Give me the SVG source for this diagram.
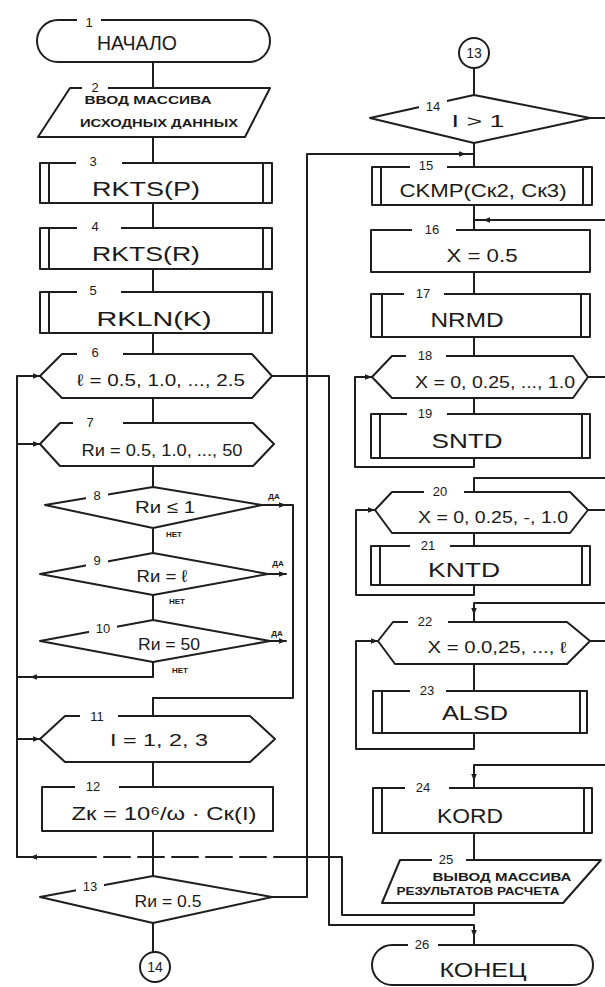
<svg xmlns="http://www.w3.org/2000/svg" width="605" height="987" viewBox="0 0 605 987">
<defs>
<marker id="arr" viewBox="0 0 10 10" refX="10" refY="5" markerWidth="7" markerHeight="7" orient="auto" markerUnits="userSpaceOnUse">
<path d="M0,1 L10,5 L0,9 z" fill="#1e1e1e"/>
</marker>
<style>
.s{fill:none;stroke:#1e1e1e;stroke-width:2;stroke-linejoin:round;stroke-linecap:round}
.b{fill:#fff;stroke:#1e1e1e;stroke-width:2;stroke-linejoin:round}
.g{fill:#fff;stroke:none}
.t{font-family:"Liberation Sans","DejaVu Sans",sans-serif;fill:#1a1a1a;text-anchor:middle}
.m{font-size:21px}
.f{font-size:17px}
.n{font-size:13px}
.c{font-size:11px;font-weight:bold}
.y{font-size:8px;font-weight:bold}
.d{stroke-dasharray:26 8}
</style>
</defs>
<rect width="605" height="987" fill="#fff"/>

<g id="connectors">
<!-- left column main spine -->
<line class="s" x1="153" y1="62" x2="153" y2="88"/>
<line class="s" x1="153" y1="137" x2="153" y2="163"/>
<line class="s" x1="153" y1="203" x2="153" y2="228"/>
<line class="s" x1="153" y1="269" x2="153" y2="292"/>
<line class="s" x1="153" y1="333" x2="153" y2="354"/>
<line class="s" x1="153" y1="398" x2="153" y2="423"/>
<line class="s" x1="153" y1="466" x2="153" y2="487"/>
<line class="s" x1="153" y1="528" x2="153" y2="553"/>
<line class="s" x1="153" y1="595" x2="153" y2="620"/>
<line class="s" x1="153" y1="698" x2="153" y2="716"/>
<line class="s" x1="153" y1="762" x2="153" y2="787"/>
<line class="s" x1="153" y1="831" x2="153" y2="876"/>
<line class="s" x1="153" y1="923" x2="153" y2="952"/>
<!-- да exits -->
<polyline class="s" points="262,505 286,505" marker-end="url(#arr)"/>
<polyline class="s" points="268,574 286,574" marker-end="url(#arr)"/>
<polyline class="s" points="270,641 286,641" marker-end="url(#arr)"/>
<polyline class="s" points="286,505 293,505 293,698 153,698"/>
<!-- нет return of 10 -->
<polyline class="s" points="153,662 153,677 30,677" marker-end="url(#arr)"/>
<line class="s" x1="30" y1="677" x2="17" y2="677"/>
<!-- left loop line -->
<polyline class="s" points="17,857 17,376 40,376" marker-end="url(#arr)"/>
<polyline class="s" points="17,444 40,444" marker-end="url(#arr)"/>
<polyline class="s" points="17,739 40,739" marker-end="url(#arr)"/>
<!-- return from 25 (dashed) -->
<polyline class="s" points="474,903 474,915 342,915 342,857 300,857"/>
<line class="s d" x1="300" y1="857" x2="92" y2="857"/>
<polyline class="s" points="92,857 30,857" marker-end="url(#arr)"/>
<line class="s" x1="30" y1="857" x2="17" y2="857"/>
<!-- line A: from 13 to 15 -->
<polyline class="s" points="272,897 307,897 307,154 466,154" marker-end="url(#arr)"/>
<line class="s" x1="466" y1="154" x2="474" y2="154"/>
<!-- line B: from 6 to 26 -->
<polyline class="s" points="272,376 329,376 329,925 474,925 474,937" marker-end="url(#arr)"/>
<line class="s" x1="474" y1="937" x2="474" y2="945"/>
<!-- right column spine -->
<line class="s" x1="474" y1="68" x2="474" y2="95"/>
<line class="s" x1="474" y1="143" x2="474" y2="167"/>
<line class="s" x1="474" y1="205" x2="474" y2="230"/>
<polyline class="s" points="605,220 483,220" marker-end="url(#arr)"/>
<line class="s" x1="483" y1="220" x2="474" y2="220"/>
<line class="s" x1="474" y1="272" x2="474" y2="294"/>
<line class="s" x1="474" y1="337" x2="474" y2="356"/>
<line class="s" x1="474" y1="398" x2="474" y2="414"/>
<polyline class="s" points="474,458 474,467 355,467 355,377 372,377" marker-end="url(#arr)"/>
<polyline class="s" points="605,478 474,478 474,492"/>
<line class="s" x1="474" y1="533" x2="474" y2="546"/>
<polyline class="s" points="474,585 474,595 356,595 356,510 375,510" marker-end="url(#arr)"/>
<polyline class="s" points="605,603 474,603 474,615" marker-end="url(#arr)"/>
<line class="s" x1="474" y1="615" x2="474" y2="622"/>
<line class="s" x1="474" y1="664" x2="474" y2="691"/>
<polyline class="s" points="474,733 474,749 356,749 356,641 378,641" marker-end="url(#arr)"/>
<polyline class="s" points="605,765 474,765 474,781" marker-end="url(#arr)"/>
<line class="s" x1="474" y1="781" x2="474" y2="788"/>
<line class="s" x1="474" y1="833" x2="474" y2="860"/>
<!-- off-page exits on right -->
<line class="s" x1="590" y1="118" x2="605" y2="118"/>
<line class="s" x1="588" y1="377" x2="605" y2="377"/>
<line class="s" x1="588" y1="510" x2="605" y2="510"/>
<line class="s" x1="590" y1="641" x2="605" y2="641"/>
<!-- да / нет -->
<text class="t y" x="274" y="499">ДА</text>
<text class="t y" x="278" y="566">ДА</text>
<text class="t y" x="277" y="636">ДА</text>
<text class="t y" x="174" y="537">НЕТ</text>
<text class="t y" x="177" y="604">НЕТ</text>
<text class="t y" x="180" y="673">НЕТ</text>
</g>

<g id="node1">
<rect class="b" x="37" y="20" width="233" height="42" rx="21"/>
<rect class="g" x="77" y="14" width="24" height="14"/>
<text class="t n" x="89" y="27">1</text>
<text class="t" x="137" y="50" font-size="20" textLength="80" lengthAdjust="spacingAndGlyphs">НАЧАЛО</text>
</g>
<g id="node2">
<polygon class="b" points="70,88 270,88 245,137 38,137"/>
<rect class="g" x="82" y="81" width="26" height="14"/>
<text class="t n" x="95" y="92">2</text>
<text class="t c" x="148" y="104" textLength="127" lengthAdjust="spacingAndGlyphs">ВВОД МАССИВА</text>
<text class="t c" x="159" y="127" textLength="158" lengthAdjust="spacingAndGlyphs">ИСХОДНЫХ ДАННЫХ</text>
</g>
<g id="node3">
<rect class="b" x="40" y="163" width="232" height="40"/>
<line class="s" x1="49" y1="163" x2="49" y2="203"/><line class="s" x1="263" y1="163" x2="263" y2="203"/>
<rect class="g" x="76" y="156" width="46" height="14"/>
<text class="t n" x="93" y="166">3</text>
<text class="t m" x="146" y="196" textLength="108" lengthAdjust="spacingAndGlyphs">RKTS(P)</text>
</g>
<g id="node4">
<rect class="b" x="40" y="228" width="232" height="41"/>
<line class="s" x1="49" y1="228" x2="49" y2="269"/><line class="s" x1="263" y1="228" x2="263" y2="269"/>
<rect class="g" x="77" y="221" width="44" height="14"/>
<text class="t n" x="95" y="231">4</text>
<text class="t m" x="146" y="261" textLength="108" lengthAdjust="spacingAndGlyphs">RKTS(R)</text>
</g>
<g id="node5">
<rect class="b" x="40" y="292" width="232" height="41"/>
<line class="s" x1="49" y1="292" x2="49" y2="333"/><line class="s" x1="263" y1="292" x2="263" y2="333"/>
<rect class="g" x="77" y="285" width="44" height="14"/>
<text class="t n" x="93" y="295">5</text>
<text class="t m" x="154" y="326" textLength="115" lengthAdjust="spacingAndGlyphs">RKLN(K)</text>
</g>
<g id="node6">
<polygon class="b" points="40,376 62,354 252,354 272,376 252,398 62,398"/>
<rect class="g" x="77" y="347" width="46" height="14"/>
<text class="t n" x="95" y="357">6</text>
<text class="t f" x="161" y="386" textLength="168" lengthAdjust="spacingAndGlyphs">ℓ = 0.5, 1.0, ..., 2.5</text>
</g>
<g id="node7">
<polygon class="b" points="40,444 60,423 253,423 274,444 253,466 60,466"/>
<rect class="g" x="73" y="416" width="50" height="14"/>
<text class="t n" x="90" y="427">7</text>
<text class="t f" x="162" y="456" textLength="161" lengthAdjust="spacingAndGlyphs">Rи = 0.5, 1.0, ..., 50</text>
</g>
<g id="node8">
<polygon class="b" points="153,487 262,505 153,528 45,505"/>
<rect class="g" x="86" y="489" width="22" height="14"/>
<text class="t n" x="97" y="500">8</text>
<text class="t f" x="165" y="513" textLength="60" lengthAdjust="spacingAndGlyphs">Rи ≤ 1</text>
</g>
<g id="node9">
<polygon class="b" points="153,553 268,574 153,595 40,574"/>
<rect class="g" x="86" y="554" width="22" height="14"/>
<text class="t n" x="97" y="565">9</text>
<text class="t f" x="162" y="582" textLength="51" lengthAdjust="spacingAndGlyphs">Rи = ℓ</text>
</g>
<g id="node10">
<polygon class="b" points="153,620 270,641 153,662 40,641"/>
<rect class="g" x="89" y="622" width="28" height="14"/>
<text class="t n" x="103" y="633">10</text>
<text class="t f" x="169" y="650" textLength="62" lengthAdjust="spacingAndGlyphs">Rи = 50</text>
</g>
<g id="node11">
<polygon class="b" points="40,739 65,716 250,716 275,739 250,762 65,762"/>
<rect class="g" x="80" y="709" width="38" height="14"/>
<text class="t n" x="97" y="721">11</text>
<text class="t f" x="159" y="746" textLength="98" lengthAdjust="spacingAndGlyphs">I = 1, 2, 3</text>
</g>
<g id="node12">
<rect class="b" x="42" y="787" width="231" height="44"/>
<rect class="g" x="75" y="780" width="44" height="14"/>
<text class="t n" x="93" y="791">12</text>
<text class="t" x="164" y="820" font-size="19" textLength="185" lengthAdjust="spacingAndGlyphs">Zк = 10⁶/ω · Cк(I)</text>
</g>
<g id="node13">
<polygon class="b" points="153,876 272,897 153,923 40,897"/>
<rect class="g" x="76" y="880" width="28" height="14"/>
<text class="t n" x="90" y="891">13</text>
<text class="t f" x="168" y="907" textLength="67" lengthAdjust="spacingAndGlyphs">Rи = 0.5</text>
</g>
<g id="conn14">
<circle class="b" cx="155" cy="967" r="15"/>
<text class="t" x="155" y="972" font-size="14">14</text>
</g>

<g id="conn13">
<circle class="b" cx="474" cy="53" r="15"/>
<text class="t" x="474" y="58" font-size="14">13</text>
</g>
<g id="node14">
<polygon class="b" points="474,95 590,118 474,143 370,118"/>
<rect class="g" x="419" y="100" width="28" height="14"/>
<text class="t n" x="433" y="111">14</text>
<text class="t f" x="478" y="127" textLength="53" lengthAdjust="spacingAndGlyphs">I &gt; 1</text>
</g>
<g id="node15">
<rect class="b" x="372" y="167" width="220" height="38"/>
<line class="s" x1="381" y1="167" x2="381" y2="205"/><line class="s" x1="583" y1="167" x2="583" y2="205"/>
<rect class="g" x="410" y="160" width="37" height="14"/>
<text class="t n" x="426" y="170">15</text>
<text class="t" x="483" y="197" font-size="18" textLength="167" lengthAdjust="spacingAndGlyphs">CKMP(Cк2, Cк3)</text>
</g>
<g id="node16">
<rect class="b" x="371" y="230" width="219" height="42"/>
<rect class="g" x="412" y="223" width="44" height="14"/>
<text class="t n" x="432" y="234">16</text>
<text class="t" x="482" y="262" font-size="18" textLength="71" lengthAdjust="spacingAndGlyphs">X = 0.5</text>
</g>
<g id="node17">
<rect class="b" x="371" y="294" width="219" height="43"/>
<line class="s" x1="382" y1="294" x2="382" y2="337"/><line class="s" x1="581" y1="294" x2="581" y2="337"/>
<rect class="g" x="404" y="287" width="40" height="14"/>
<text class="t n" x="423" y="298">17</text>
<text class="t" x="467" y="327" font-size="20" textLength="73" lengthAdjust="spacingAndGlyphs">NRMD</text>
</g>
<g id="node18">
<polygon class="b" points="372,377 392,356 573,356 588,377 573,398 392,398"/>
<rect class="g" x="406" y="349" width="40" height="14"/>
<text class="t n" x="425" y="360">18</text>
<text class="t" x="495" y="388" font-size="16" textLength="160" lengthAdjust="spacingAndGlyphs">X = 0, 0.25, ..., 1.0</text>
</g>
<g id="node19">
<rect class="b" x="371" y="414" width="219" height="44"/>
<line class="s" x1="380" y1="414" x2="380" y2="458"/><line class="s" x1="582" y1="414" x2="582" y2="458"/>
<rect class="g" x="407" y="407" width="40" height="14"/>
<text class="t n" x="425" y="418">19</text>
<text class="t" x="467" y="448" font-size="20" textLength="71" lengthAdjust="spacingAndGlyphs">SNTD</text>
</g>
<g id="node20">
<polygon class="b" points="375,510 392,492 570,492 588,510 570,533 392,533"/>
<rect class="g" x="424" y="485" width="40" height="14"/>
<text class="t n" x="440" y="496">20</text>
<text class="t" x="493" y="523" font-size="16" textLength="150" lengthAdjust="spacingAndGlyphs">X = 0, 0.25, -, 1.0</text>
</g>
<g id="node21">
<rect class="b" x="371" y="546" width="219" height="39"/>
<line class="s" x1="380" y1="546" x2="380" y2="585"/><line class="s" x1="582" y1="546" x2="582" y2="585"/>
<rect class="g" x="410" y="539" width="40" height="14"/>
<text class="t n" x="428" y="550">21</text>
<text class="t" x="464" y="577" font-size="20" textLength="72" lengthAdjust="spacingAndGlyphs">KNTD</text>
</g>
<g id="node22">
<polygon class="b" points="378,641 393,622 567,622 590,641 567,664 395,664"/>
<rect class="g" x="408" y="615" width="40" height="14"/>
<text class="t n" x="425" y="626">22</text>
<text class="t" x="497" y="653" font-size="16" textLength="139" lengthAdjust="spacingAndGlyphs">X = 0.0,25, ..., ℓ</text>
</g>
<g id="node23">
<rect class="b" x="373" y="691" width="214" height="42"/>
<line class="s" x1="382" y1="691" x2="382" y2="733"/><line class="s" x1="580" y1="691" x2="580" y2="733"/>
<rect class="g" x="410" y="684" width="36" height="14"/>
<text class="t n" x="427" y="695">23</text>
<text class="t" x="475" y="720" font-size="20" textLength="66" lengthAdjust="spacingAndGlyphs">ALSD</text>
</g>
<g id="node24">
<rect class="b" x="373" y="788" width="219" height="45"/>
<line class="s" x1="382" y1="788" x2="382" y2="833"/><line class="s" x1="584" y1="788" x2="584" y2="833"/>
<rect class="g" x="405" y="781" width="44" height="14"/>
<text class="t n" x="423" y="792">24</text>
<text class="t" x="470" y="823" font-size="20" textLength="66" lengthAdjust="spacingAndGlyphs">KORD</text>
</g>
<g id="node25">
<polygon class="b" points="400,860 601,860 563,903 382,903"/>
<rect class="g" x="432" y="853" width="34" height="14"/>
<text class="t n" x="446" y="864">25</text>
<text class="t" x="502" y="881" font-size="10" font-weight="bold" textLength="139" lengthAdjust="spacingAndGlyphs">ВЫВОД МАССИВА</text>
<text class="t" x="478" y="895" font-size="10" font-weight="bold" textLength="163" lengthAdjust="spacingAndGlyphs">РЕЗУЛЬТАТОВ РАСЧЕТА</text>
</g>
<g id="node26">
<rect class="b" x="372" y="945" width="221" height="40" rx="20"/>
<rect class="g" x="408" y="938" width="30" height="14"/>
<text class="t n" x="422" y="949">26</text>
<text class="t" x="483" y="977" font-size="20" textLength="87" lengthAdjust="spacingAndGlyphs">КОНЕЦ</text>
</g>
</svg>
